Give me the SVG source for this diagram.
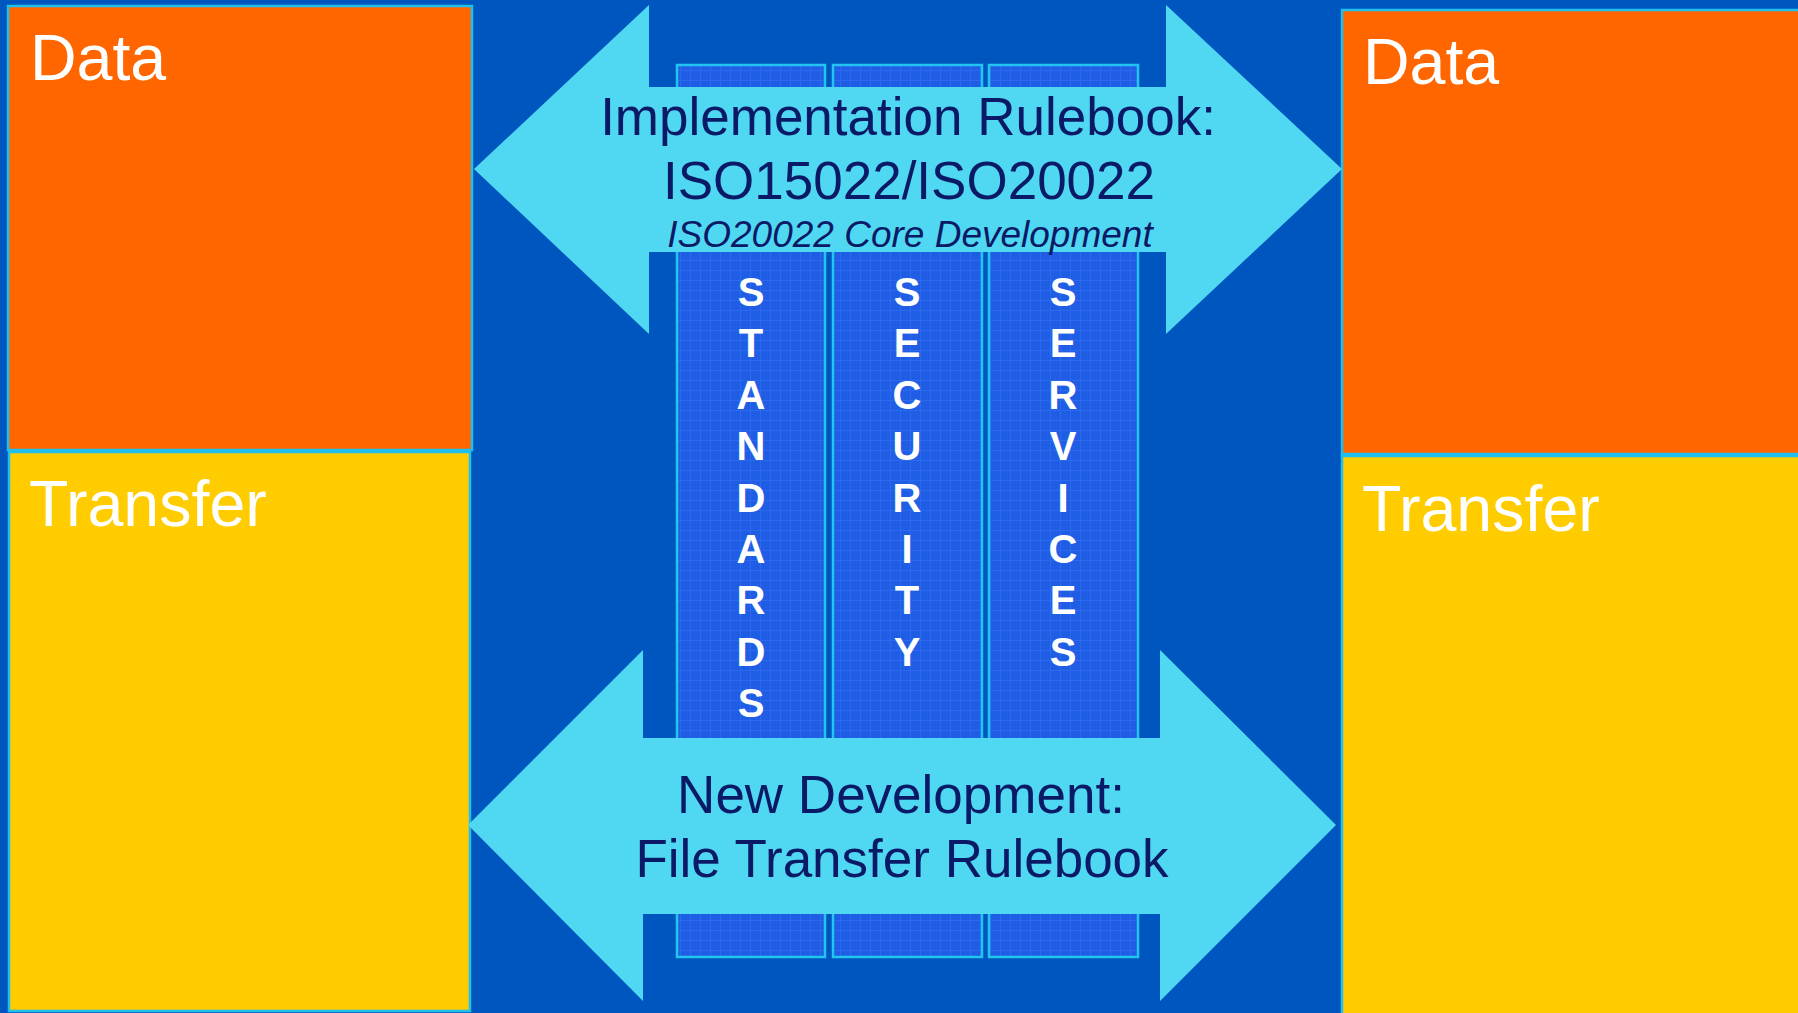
<svg xmlns="http://www.w3.org/2000/svg" width="1798" height="1013" viewBox="0 0 1798 1013">
<defs>
<pattern id="grid" width="10" height="10" patternUnits="userSpaceOnUse">
<rect width="10" height="10" fill="#1f5ee4"/>
<path d="M0 0.5H10M0.5 0V10" stroke="#2c69ee" stroke-width="1" fill="none"/>
</pattern>
<style>
.box{stroke:#1ec0ee;stroke-width:2.5}
.data{fill:#ff6600}
.xfer{fill:#ffcc00}
.col{fill:url(#grid);stroke:#22c4f0;stroke-width:2.5}
.lbl{font-family:"Liberation Sans",Arial,sans-serif;font-size:64.5px;fill:#ffffff}
.vert{font-family:"Liberation Sans",Arial,sans-serif;font-size:40px;font-weight:bold;fill:#ffffff;text-anchor:middle}
.arrow{fill:#50d8f3}
.atxt{font-family:"Liberation Sans",Arial,sans-serif;font-size:53px;fill:#0a1a66;text-anchor:middle}
.itxt{font-family:"Liberation Sans",Arial,sans-serif;font-size:37px;font-style:italic;fill:#0a1a66;text-anchor:middle}
</style>
</defs>
<rect width="1798" height="1013" fill="#0056bf"/>

<g id="left-data"><rect class="box data" x="8" y="6" width="464" height="444"/><text class="lbl" x="30" y="80">Data</text></g>
<g id="left-transfer"><rect class="box xfer" x="9" y="452" width="461" height="559"/><text class="lbl" x="29" y="526">Transfer</text></g>
<g id="right-data"><rect class="box data" x="1342" y="10" width="470" height="444"/><text class="lbl" x="1363" y="84">Data</text></g>
<g id="right-transfer"><rect class="box xfer" x="1342" y="456" width="470" height="570"/><text class="lbl" x="1362" y="531">Transfer</text></g>

<g id="standards"><rect class="col" x="677" y="65" width="148" height="892"/>
<text class="vert" x="751" y="306">S<tspan x="751" dy="51.4">T</tspan><tspan x="751" dy="51.4">A</tspan><tspan x="751" dy="51.4">N</tspan><tspan x="751" dy="51.4">D</tspan><tspan x="751" dy="51.4">A</tspan><tspan x="751" dy="51.4">R</tspan><tspan x="751" dy="51.4">D</tspan><tspan x="751" dy="51.4">S</tspan></text></g>
<g id="security"><rect class="col" x="833" y="65" width="149" height="892"/>
<text class="vert" x="907" y="306">S<tspan x="907" dy="51.4">E</tspan><tspan x="907" dy="51.4">C</tspan><tspan x="907" dy="51.4">U</tspan><tspan x="907" dy="51.4">R</tspan><tspan x="907" dy="51.4">I</tspan><tspan x="907" dy="51.4">T</tspan><tspan x="907" dy="51.4">Y</tspan></text></g>
<g id="services"><rect class="col" x="989" y="65" width="149" height="892"/>
<text class="vert" x="1063" y="306">S<tspan x="1063" dy="51.4">E</tspan><tspan x="1063" dy="51.4">R</tspan><tspan x="1063" dy="51.4">V</tspan><tspan x="1063" dy="51.4">I</tspan><tspan x="1063" dy="51.4">C</tspan><tspan x="1063" dy="51.4">E</tspan><tspan x="1063" dy="51.4">S</tspan></text></g>

<g id="connectors">
<g id="implementation-arrow">
<polygon class="arrow" points="474,169 649,5 649,87 1166,87 1166,5 1342,169 1166,334 1166,252 649,252 649,334"/>
<text class="atxt" x="908" y="135">Implementation Rulebook:</text>
<text class="atxt" x="909" y="199">ISO15022/ISO20022</text>
<text class="itxt" x="910" y="247">ISO20022 Core Development</text>
</g>
<g id="new-development-arrow">
<polygon class="arrow" points="468,825 643,650 643,738 1160,738 1160,650 1336,825 1160,1001 1160,914 643,914 643,1001"/>
<text class="atxt" x="901" y="813">New Development:</text>
<text class="atxt" x="902" y="877">File Transfer Rulebook</text>
</g>
</g>
</svg>
